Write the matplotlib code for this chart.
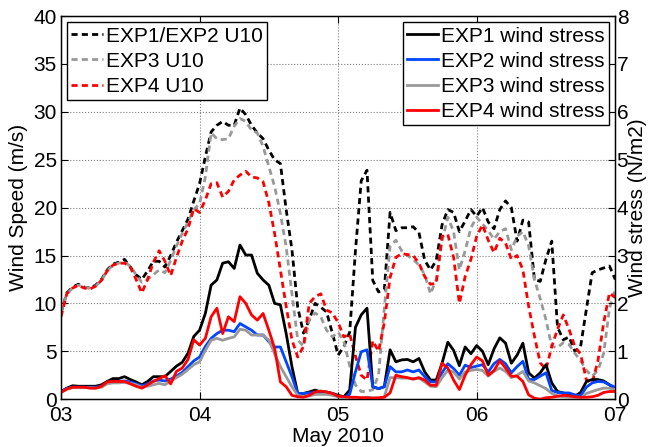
import numpy as np
import pandas as pd
import matplotlib
matplotlib.use("Agg")
import matplotlib.pyplot as plt
import matplotlib.dates as mdates

# hourly values, 3 May 2010 00:00 to 7 May 2010 00:00
times = pd.date_range("2010-05-03", periods=97, freq="h")

u10_exp1 = [9.0, 11.1, 11.7, 12.0, 11.7, 11.6, 11.9, 12.5, 13.5, 14.1, 14.3, 14.6,
            13.8, 13.0, 12.5, 13.4, 14.4, 14.4, 13.8, 15.0, 16.4, 17.6, 18.8, 20.7,
            22.5, 25.3, 27.9, 28.6, 29.0, 28.6, 28.6, 30.4, 29.7, 28.6, 27.8, 27.2,
            26.0, 25.0, 24.6, 19.8, 15.6, 9.6, 6.9, 8.3, 10.0, 9.6, 9.1, 6.9,
            4.6, 5.5, 7.0, 15.5, 22.8, 23.9, 12.4, 11.2, 11.4, 19.5, 17.6, 17.9,
            17.9, 18.0, 17.4, 14.5, 13.5, 14.5, 18.2, 19.8, 19.5, 17.5, 18.6, 19.8,
            19.1, 20.0, 18.5, 17.8, 19.8, 20.7, 20.0, 16.5, 18.7, 18.5, 12.5, 12.3,
            14.6, 16.5, 7.5, 6.2, 6.5, 5.0, 5.5, 9.4, 13.2, 13.5, 13.7, 13.9,
            12.5]
u10_exp3 = [9.0, 11.0, 11.6, 11.9, 11.7, 11.6, 11.8, 12.4, 13.4, 14.0, 14.2, 14.3,
            13.9, 13.0, 12.2, 12.5, 13.0, 13.5, 13.2, 14.5, 16.0, 17.3, 18.5, 19.8,
            20.4, 23.2, 27.8, 27.2, 27.1, 27.2, 28.5, 29.3, 29.0, 28.1, 27.8, 26.4,
            24.3, 22.2, 19.4, 15.9, 11.0, 6.2, 5.5, 8.3, 9.0, 8.6, 7.2, 6.5,
            7.0, 6.0, 3.5, 1.5, 0.8, 0.8, 1.0, 2.5, 9.5, 16.0, 16.6, 15.5,
            15.0, 14.6, 14.0, 13.0, 11.0, 12.5, 16.5, 19.0, 17.5, 13.5, 15.5, 17.9,
            19.0, 18.3, 17.6, 16.7, 17.5, 17.8, 15.6, 17.0, 17.5, 16.0, 12.5, 10.5,
            8.3, 5.5, 5.4, 5.9, 5.7, 4.8, 4.0, 3.0, 2.4, 3.0, 4.8, 9.5,
            11.5]
u10_exp4 = [8.6, 11.0, 11.6, 11.9, 11.6, 11.5, 11.8, 12.4, 13.4, 14.0, 14.2, 14.2,
            13.8, 12.5, 11.1, 12.5, 14.3, 15.5, 14.4, 12.9, 14.8, 16.5, 17.8, 19.9,
            19.5, 20.8, 22.5, 22.6, 21.1, 21.7, 22.9, 23.4, 23.8, 23.2, 23.1, 22.7,
            20.5, 17.3, 13.5, 9.7, 6.2, 4.4, 5.5, 10.0, 10.7, 11.0, 9.3, 9.0,
            8.0, 6.5, 6.8, 4.5, 2.5, 2.0, 6.1, 5.0, 8.0, 12.7, 14.8, 15.2,
            15.1, 15.0, 14.2, 12.8, 12.0, 12.1, 17.0, 17.2, 14.8, 10.0, 12.8, 14.6,
            17.0, 18.2, 16.6, 15.3, 16.8, 16.3, 14.6, 15.0, 13.5, 9.7, 6.6, 3.8,
            3.1, 5.5, 7.3, 8.8, 7.3, 5.5, 4.7, 2.0, 1.7, 4.0, 8.0, 11.1,
            10.6]

tau_exp1 = [0.16, 0.23, 0.28, 0.27, 0.27, 0.27, 0.27, 0.30, 0.37, 0.43, 0.43, 0.47,
            0.41, 0.36, 0.30, 0.37, 0.47, 0.47, 0.47, 0.58, 0.69, 0.77, 0.96, 1.31,
            1.44, 1.79, 2.38, 2.49, 2.84, 2.87, 2.73, 3.22, 3.01, 3.01, 2.63, 2.49,
            2.38, 2.00, 1.97, 1.37, 0.68, 0.12, 0.12, 0.15, 0.19, 0.15, 0.15, 0.12,
            0.08, 0.05, 0.19, 1.50, 1.76, 1.90, 0.26, 0.22, 0.26, 1.03, 0.78, 0.82,
            0.83, 0.78, 0.85, 0.57, 0.40, 0.40, 0.75, 1.19, 1.02, 0.70, 1.09, 0.95,
            1.12, 1.00, 0.72, 1.05, 1.28, 1.17, 0.75, 0.92, 1.17, 0.55, 0.44, 0.55,
            0.72, 0.34, 0.16, 0.13, 0.09, 0.06, 0.14, 0.37, 0.41, 0.41, 0.38, 0.30,
            0.20]
tau_exp2 = [0.15, 0.22, 0.25, 0.25, 0.25, 0.25, 0.25, 0.27, 0.34, 0.37, 0.37, 0.38,
            0.36, 0.32, 0.28, 0.32, 0.38, 0.40, 0.38, 0.42, 0.48, 0.56, 0.68, 0.80,
            0.88, 1.10, 1.27, 1.37, 1.44, 1.44, 1.41, 1.58, 1.51, 1.44, 1.34, 1.34,
            1.20, 1.09, 1.09, 0.78, 0.47, 0.12, 0.12, 0.13, 0.14, 0.13, 0.14, 0.12,
            0.06, 0.03, 0.10, 0.57, 0.99, 1.03, 0.26, 0.22, 0.26, 0.68, 0.57, 0.57,
            0.61, 0.57, 0.61, 0.47, 0.36, 0.36, 0.55, 0.74, 0.64, 0.50, 0.71, 0.66,
            0.69, 0.72, 0.57, 0.74, 0.83, 0.74, 0.55, 0.68, 0.79, 0.41, 0.41, 0.48,
            0.55, 0.18, 0.14, 0.13, 0.13, 0.09, 0.07, 0.25, 0.34, 0.37, 0.36, 0.30,
            0.25]
tau_exp3 = [0.14, 0.21, 0.24, 0.24, 0.24, 0.24, 0.23, 0.25, 0.32, 0.34, 0.34, 0.35,
            0.33, 0.30, 0.25, 0.27, 0.30, 0.33, 0.30, 0.38, 0.45, 0.52, 0.62, 0.72,
            0.78, 1.02, 1.23, 1.27, 1.23, 1.27, 1.30, 1.46, 1.44, 1.34, 1.34, 1.34,
            1.23, 0.95, 0.68, 0.47, 0.26, 0.08, 0.05, 0.07, 0.10, 0.10, 0.10, 0.08,
            0.05, 0.03, 0.02, 0.02, 0.03, 0.04, 0.03, 0.02, 0.05, 0.45, 0.45, 0.44,
            0.44, 0.42, 0.44, 0.36, 0.27, 0.26, 0.45, 0.60, 0.57, 0.42, 0.57, 0.60,
            0.62, 0.60, 0.48, 0.58, 0.65, 0.58, 0.45, 0.50, 0.58, 0.38, 0.34, 0.28,
            0.22, 0.12, 0.07, 0.05, 0.04, 0.03, 0.02, 0.12, 0.16, 0.20, 0.23, 0.23,
            0.20]
tau_exp4 = [0.14, 0.21, 0.25, 0.25, 0.25, 0.23, 0.23, 0.27, 0.36, 0.37, 0.37, 0.37,
            0.32, 0.27, 0.23, 0.30, 0.37, 0.43, 0.49, 0.32, 0.58, 0.65, 0.83, 1.24,
            1.13, 1.27, 1.72, 1.90, 1.37, 1.72, 1.62, 2.14, 2.00, 1.76, 1.65, 1.79,
            1.44, 1.06, 0.36, 0.26, 0.08, 0.05, 0.04, 0.08, 0.15, 0.17, 0.15, 0.12,
            0.06, 0.05, 0.04, 0.04, 0.03, 0.03, 0.02, 0.03, 0.04, 0.13, 0.50, 0.47,
            0.45, 0.42, 0.45, 0.40, 0.29, 0.29, 0.75, 0.65, 0.40, 0.20, 0.50, 0.72,
            0.88, 0.80, 0.50, 0.60, 0.80, 0.65, 0.48, 0.48, 0.37, 0.09, 0.02, 0.00,
            0.03, 0.04, 0.06, 0.08, 0.07, 0.05, 0.04, 0.04, 0.05, 0.08, 0.14, 0.16,
            0.16]

blue = (0.0, 0.27, 1.0)
gray = (0.6, 0.6, 0.6)
dash = (2.2, 1.5)

plt.rcParams["font.family"] = ["Liberation Sans", "DejaVu Sans"]
plt.rcParams["font.size"] = 15

fig = plt.figure(figsize=(6.49, 4.47), dpi=100)
ax = fig.add_axes([0.094, 0.107, 0.854, 0.857])
ax2 = ax.twinx()

ax.plot(times, u10_exp1, color="k", lw=2, dashes=dash, label="EXP1/EXP2 U10")
ax.plot(times, u10_exp3, color=gray, lw=2, dashes=dash, label="EXP3 U10")
ax.plot(times, u10_exp4, color="r", lw=2, dashes=dash, label="EXP4 U10")

ax2.plot(times, tau_exp1, color="k", lw=2, label="EXP1 wind stress")
ax2.plot(times, tau_exp2, color=blue, lw=2, label="EXP2 wind stress")
ax2.plot(times, tau_exp3, color=gray, lw=2, label="EXP3 wind stress")
ax2.plot(times, tau_exp4, color="r", lw=2, label="EXP4 wind stress")

ax.set_xlim(times[0], times[-1])
ax.set_ylim(0, 40)
ax2.set_ylim(0, 8)
ax.set_yticks(np.arange(0, 41, 5))
ax2.set_yticks(np.arange(0, 9, 1))
ax.xaxis.set_major_locator(mdates.DayLocator())
ax.xaxis.set_major_formatter(mdates.DateFormatter("%d"))

ax.grid(True, linestyle=":", color="0.5", lw=0.8)
for a in (ax, ax2):
    a.tick_params(direction="in", length=5, width=0.8)
ax.tick_params(axis="y", pad=3)
ax.tick_params(axis="x", top=True, pad=5)
ax2.tick_params(pad=1)
for s in ax.spines.values():
    s.set_linewidth(1.0)

ax.set_xlabel("May 2010", labelpad=1)
ax.set_ylabel("Wind Speed (m/s)", labelpad=4)
ax2.set_ylabel("Wind stress (N/m2)", rotation=90, labelpad=0)

leg_kw = dict(frameon=True, fancybox=False, edgecolor="k", framealpha=1,
              handlelength=1.5, handletextpad=0.15, labelspacing=0.3,
              borderpad=0.2, borderaxespad=0.3)
l1 = ax.legend(loc="upper left", **leg_kw)
l1.get_frame().set_linewidth(1.0)
l2 = ax2.legend(loc="upper right", **leg_kw)
l2.get_frame().set_linewidth(1.0)

fig.savefig("out.png", dpi=100)
